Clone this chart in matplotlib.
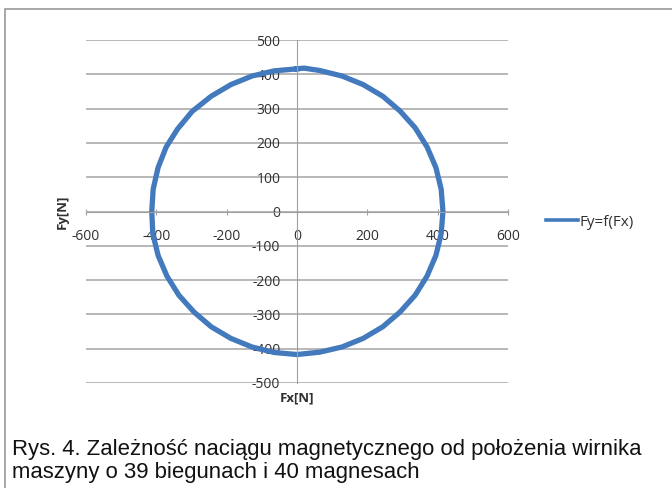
import matplotlib
matplotlib.use("Agg")
import matplotlib.pyplot as plt
from matplotlib.patches import Rectangle

plt.rcParams['axes.unicode_minus'] = False
plt.rcParams['font.family'] = ['Open Sans', 'DejaVu Sans']

# ---------- data ----------
fx = [0, 20, 65, 128, 188, 244, 293, 336, 370, 395, 410, 415,
      410, 395, 370, 336, 293, 244, 188, 128, 65, 0,
      -65, -128, -188, -244, -293, -336, -370, -395, -410, -413,
      -409, -395, -372, -340, -298, -244, -188, -128, -65, 0]
fy = [416, 418, 411, 395, 370, 336, 293, 244, 188, 128, 65, 0,
      -65, -128, -188, -244, -293, -336, -370, -395, -410, -417,
      -411, -395, -370, -336, -293, -244, -188, -128, -65, 0,
      65, 128, 188, 240, 292, 336, 370, 395, 410, 416]
x_ticks = [-600, -400, -200, 0, 200, 400, 600]
y_ticks = [-500, -400, -300, -200, -100, 0, 100, 200, 300, 400, 500]
series_name = "Fy=f(Fx)"
caption_1 = "Rys. 4. Zależność naciągu magnetycznego od położenia wirnika"
caption_2 = "maszyny o 39 biegunach i 40 magnesach"

W, H = 672, 488
fig = plt.figure(figsize=(W / 100, H / 100), dpi=100)

# outer frame of the figure box
fig.patches.append(Rectangle((5 / W, -0.1), 1.2, (H - 9) / H + 0.1,
                             transform=fig.transFigure, fill=False,
                             edgecolor="#9a9a9a", linewidth=1.2))

ax = fig.add_axes([86 / W, (H - 383) / H, 422 / W, 343 / H])
line_col = "#4379bd"
ax.plot(fx, fy, color=line_col, linewidth=3.8, solid_joinstyle="round",
        label=series_name)

ax.set_xlim(-600, 600)
ax.set_ylim(-500, 500)
ax.set_xticks(x_ticks)
ax.set_yticks(y_ticks)
ax.yaxis.grid(True, color="#ababab", linewidth=1.2)
ax.set_axisbelow(True)

for s in ["top", "right"]:
    ax.spines[s].set_visible(False)
ax.spines["left"].set_position(("data", 0))
ax.spines["bottom"].set_position(("data", 0))
ax.spines["left"].set_color("#a0a0a0")
ax.spines["bottom"].set_color("#a0a0a0")

ax.tick_params(axis="x", direction="inout", length=5, color="#a0a0a0",
               pad=10, labelsize=10, labelcolor="#303030")
ax.tick_params(axis="y", length=0, pad=12, labelsize=10, labelcolor="#303030")

fig.text(62 / W, 1 - 212 / H, "Fy[N]", rotation=90, ha="center", va="center",
         fontsize=9.5, fontweight="bold", color="#303030")
fig.text(297 / W, 1 - 398 / H, "Fx[N]", ha="center", va="center",
         fontsize=9.5, fontweight="bold", color="#303030")

leg = ax.legend(loc="center left", bbox_to_anchor=(546 / W, 1 - 222 / H),
                bbox_transform=fig.transFigure, frameon=False, fontsize=11,
                handlelength=2.1, handletextpad=0.1, borderpad=0,
                borderaxespad=0, labelcolor="#303030")
for h in leg.get_lines():
    h.set_linewidth(2.6)

fig.text(12 / W, 1 - 455 / H, caption_1, ha="left", va="baseline",
         fontsize=15.9, family="Liberation Sans", color="#111111")
fig.text(12 / W, 1 - 478 / H, caption_2, ha="left", va="baseline",
         fontsize=15.9, family="Liberation Sans", color="#111111")

fig.savefig("out.png", dpi=100)
